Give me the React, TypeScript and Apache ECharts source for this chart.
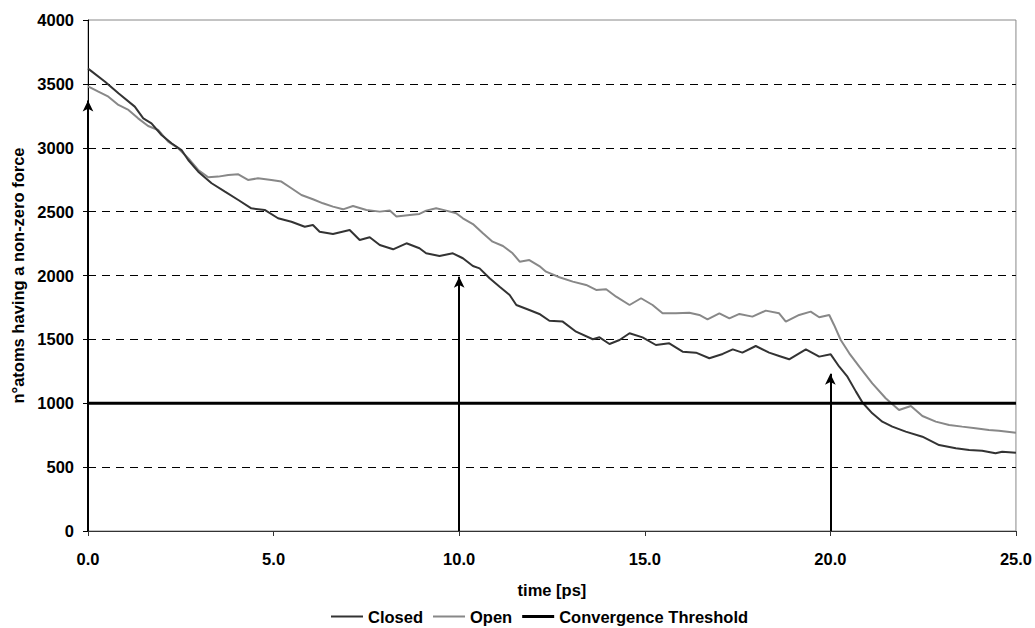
import React, { useEffect, useRef } from "react";
import * as echarts from "echarts";

const closedTime = [0, 0.09, 0.46, 0.82, 1.26, 1.49, 1.71, 1.98, 2.25, 2.52, 2.7, 2.97, 3.33, 3.69, 4.05, 4.4, 4.76, 5.12, 5.48, 5.84, 6.06, 6.24, 6.6, 7.05, 7.32, 7.59, 7.86, 8.22, 8.58, 8.93, 9.11, 9.47, 9.83, 10.1, 10.37, 10.55, 10.82, 11.09, 11.36, 11.54, 11.89, 12.16, 12.43, 12.79, 13.15, 13.6, 13.78, 14.05, 14.32, 14.59, 14.94, 15.3, 15.66, 16.02, 16.38, 16.74, 17.1, 17.37, 17.63, 17.99, 18.35, 18.62, 18.89, 19.34, 19.7, 20.01, 20.24, 20.46, 20.69, 20.87, 21.13, 21.4, 21.67, 22.03, 22.48, 22.93, 23.38, 23.74, 24.09, 24.45, 24.63, 25];
const closedValues = [3620, 3600, 3517, 3426, 3322, 3230, 3191, 3100, 3035, 2982, 2904, 2813, 2722, 2656, 2591, 2526, 2513, 2448, 2421, 2382, 2395, 2343, 2325, 2356, 2278, 2299, 2239, 2205, 2252, 2213, 2174, 2153, 2174, 2135, 2074, 2056, 1978, 1912, 1847, 1769, 1730, 1699, 1646, 1639, 1560, 1501, 1516, 1464, 1495, 1548, 1516, 1456, 1469, 1404, 1396, 1352, 1386, 1422, 1396, 1448, 1396, 1370, 1344, 1422, 1365, 1383, 1286, 1208, 1091, 1004, 921, 856, 817, 778, 738, 673, 647, 634, 629, 608, 621, 613];

const openTime = [0, 0.28, 0.55, 0.82, 1.09, 1.35, 1.62, 1.89, 2.16, 2.43, 2.7, 2.97, 3.24, 3.51, 3.78, 4.05, 4.31, 4.58, 4.94, 5.21, 5.48, 5.75, 6.06, 6.33, 6.6, 6.87, 7.14, 7.5, 7.86, 8.13, 8.31, 8.67, 8.93, 9.11, 9.38, 9.65, 9.92, 10.1, 10.37, 10.64, 10.9, 11.18, 11.44, 11.63, 11.89, 12.16, 12.34, 12.7, 13.06, 13.42, 13.69, 13.96, 14.23, 14.59, 14.9, 15.21, 15.48, 15.84, 16.2, 16.47, 16.69, 17.01, 17.28, 17.55, 17.9, 18.26, 18.62, 18.8, 19.16, 19.47, 19.7, 19.97, 20.1, 20.28, 20.51, 20.78, 21.13, 21.49, 21.85, 22.17, 22.48, 22.84, 23.2, 23.55, 23.91, 24.27, 24.54, 25];
const openValues = [3480, 3439, 3400, 3335, 3296, 3230, 3170, 3139, 3048, 2996, 2918, 2826, 2769, 2774, 2787, 2792, 2748, 2761, 2748, 2735, 2683, 2630, 2597, 2565, 2539, 2518, 2544, 2513, 2500, 2508, 2461, 2474, 2482, 2508, 2526, 2508, 2487, 2448, 2403, 2330, 2265, 2231, 2174, 2108, 2121, 2074, 2030, 1986, 1952, 1926, 1887, 1892, 1834, 1769, 1822, 1769, 1704, 1704, 1709, 1691, 1657, 1704, 1665, 1699, 1678, 1725, 1704, 1639, 1691, 1717, 1673, 1691, 1613, 1495, 1391, 1286, 1156, 1039, 947, 979, 900, 856, 830, 817, 804, 791, 785, 770];

const thresholdTime = [0, 25];
const thresholdValues = [1000, 1000];

const arrowTimes = [0, 10, 20];
const arrowTops = [3370, 1990, 1230];

const seriesNames = ["Closed", "Open", "Convergence Threshold"];
const xAxisTitle = "time [ps]";
const yAxisTitle = "n°atoms having a non-zero force";

const FONT = "'Liberation Sans', Arial, sans-serif";

export default function App() {
  const ref = useRef<HTMLDivElement>(null);
  useEffect(() => {
    document.body.style.margin = "0";
    if (!ref.current) return;
    const chart = echarts.init(ref.current, undefined, { renderer: "svg" });
    const pair = (t: number[], v: number[]) => t.map((x, i) => [x, v[i]]);
    const labelStyle = { fontFamily: FONT, fontWeight: "bold" as const, fontSize: 16.5, color: "#000" };
    const thin = "path://M0,0H32V2H0Z";
    const thick = "path://M0,0H32V3H0Z";
    chart.setOption({
      animation: false,
      backgroundColor: "#fff",
      textStyle: { fontFamily: FONT },
      grid: {
        left: 88,
        right: 18,
        top: 20,
        bottom: 97,
        show: true,
        borderColor: "#888",
        borderWidth: 1,
        backgroundColor: "transparent",
      },
      legend: {
        left: 326,
        top: 603,
        itemWidth: 32,
        itemHeight: 3,
        itemGap: 10,
        symbolKeepAspect: true,
        data: [
          { name: seriesNames[0], icon: thin, itemStyle: { color: "#333333" } },
          { name: seriesNames[1], icon: thin, itemStyle: { color: "#888888" } },
          { name: seriesNames[2], icon: thick, itemStyle: { color: "#000000" } },
        ],
        textStyle: labelStyle,
      },
      xAxis: {
        type: "value",
        min: 0,
        max: 25,
        interval: 5,
        name: xAxisTitle,
        nameLocation: "middle",
        nameGap: 50,
        nameTextStyle: labelStyle,
        axisLine: { show: true, lineStyle: { color: "#333", width: 1 } },
        axisTick: { show: true, inside: false, length: 5, lineStyle: { color: "#333" } },
        axisLabel: { ...labelStyle, margin: 19, formatter: (v: number) => v.toFixed(1) },
        splitLine: { show: false },
      },
      yAxis: {
        type: "value",
        min: 0,
        max: 4000,
        interval: 500,
        name: yAxisTitle,
        nameLocation: "middle",
        nameGap: 62,
        nameTextStyle: labelStyle,
        axisLine: { show: true, lineStyle: { color: "#000", width: 1 } },
        axisTick: { show: true, inside: false, length: 5, lineStyle: { color: "#000" } },
        axisLabel: { ...labelStyle, margin: 14, formatter: (v: number) => String(v) },
        splitLine: {
          show: true,
          showMinLine: false,
          showMaxLine: false,
          lineStyle: { color: "#000", type: [8, 6], width: 1 },
        },
      },
      series: [
        {
          name: seriesNames[0],
          type: "line",
          data: pair(closedTime, closedValues),
          symbol: "none",
          lineStyle: { color: "#333333", width: 2 },
          itemStyle: { color: "#333333" },
          z: 3,
        },
        {
          name: seriesNames[1],
          type: "line",
          data: pair(openTime, openValues),
          symbol: "none",
          lineStyle: { color: "#888888", width: 2 },
          itemStyle: { color: "#888888" },
          z: 2,
        },
        {
          name: seriesNames[2],
          type: "line",
          data: pair(thresholdTime, thresholdValues),
          symbol: "none",
          lineStyle: { color: "#000", width: 3 },
          itemStyle: { color: "#000" },
          z: 4,
          markLine: {
            silent: true,
            symbol: ["none", "arrow"],
            symbolSize: [8, 11],
            label: { show: false },
            lineStyle: { color: "#000", type: "solid", width: 2 },
            data: arrowTimes.map((t, i) => [
              { coord: [t, 0] },
              { coord: [t, arrowTops[i]] },
            ]),
          },
        },
      ],
    });
    return () => chart.dispose();
  }, []);
  return <div ref={ref} style={{ width: 1035, height: 628 }} />;
}
